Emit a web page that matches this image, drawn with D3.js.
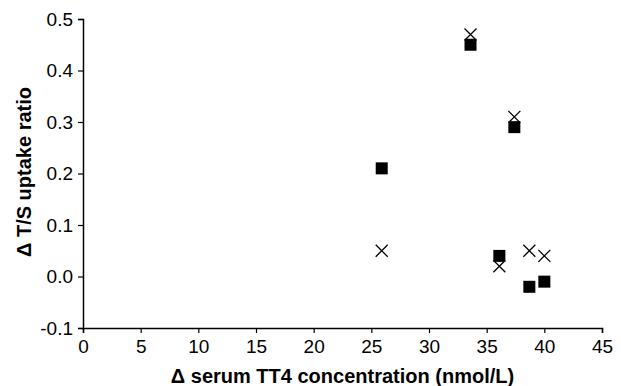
<!DOCTYPE html>
<html>
<head>
<meta charset="utf-8">
<script src="https://cdn.jsdelivr.net/npm/d3@7"></script>
<style>
  body { margin: 0; background: #fff; }
  svg { display: block; font-family: "Liberation Sans", Arial, sans-serif; }
</style>
</head>
<body>
<div id="chart"></div>
<script>
(function() {

    var width = 621;
    var height = 386;

    // data
    var squareX = [25.9, 33.6, 37.4, 36.1, 38.7, 40.0];
    var squareY = [0.21, 0.45, 0.29, 0.04, -0.02, -0.01];
    var crossX = [25.9, 33.6, 37.4, 36.1, 38.7, 40.0];
    var crossY = [0.05, 0.47, 0.31, 0.02, 0.05, 0.04];
    var xTicks = [0, 5, 10, 15, 20, 25, 30, 35, 40, 45];
    var yTicks = [-0.1, 0.0, 0.1, 0.2, 0.3, 0.4, 0.5];

    var margin = {left: 83, right: 19, top: 19, bottom: 58};

    var x = d3.scaleLinear().domain([0, 45]).range([margin.left, width - margin.right]);
    var y = d3.scaleLinear().domain([-0.1, 0.5]).range([height - margin.bottom, margin.top]);

    var svg = d3.select("#chart")
        .append("svg")
        .attr("width", width)
        .attr("height", height);

    var xAxis = svg.append("g")
        .attr("transform", "translate(0," + y(-0.1) + ")")
        .call(d3.axisBottom(x).tickValues(xTicks).tickSize(5).tickSizeOuter(5).tickPadding(7));

    var yAxis = svg.append("g")
        .attr("transform", "translate(" + x(0) + ",0)")
        .call(d3.axisLeft(y).tickValues(yTicks)
            .tickFormat(function (d) { return d.toFixed(1).replace("\u2212", "-"); })
            .tickSize(5).tickSizeOuter(5).tickPadding(5));

    [xAxis, yAxis].forEach(function (g) {
        g.attr("font-size", 19).attr("font-family", "'Liberation Sans', Arial, sans-serif");
        g.selectAll("text").attr("font-size", 19).attr("fill", "#000");
        g.selectAll("line").attr("stroke", "#000").attr("stroke-width", 1.2);
        g.select(".domain").attr("stroke", "#000").attr("stroke-width", 1.5);
    });

    // squares
    var sq = 12;
    svg.selectAll(".sq")
        .data(d3.range(squareX.length))
        .enter().append("rect")
        .attr("class", "sq")
        .attr("x", function (i) { return x(squareX[i]) - sq / 2; })
        .attr("y", function (i) { return y(squareY[i]) - sq / 2; })
        .attr("width", sq)
        .attr("height", sq)
        .attr("fill", "#000");

    // crosses
    var c = 6;
    svg.selectAll(".cross")
        .data(d3.range(crossX.length))
        .enter().append("path")
        .attr("class", "cross")
        .attr("d", function (i) {
            var cx = x(crossX[i]), cy = y(crossY[i]);
            return "M" + (cx - c) + "," + (cy - c) + "L" + (cx + c) + "," + (cy + c) +
                "M" + (cx - c) + "," + (cy + c) + "L" + (cx + c) + "," + (cy - c);
        })
        .attr("stroke", "#000")
        .attr("stroke-width", 1.3)
        .attr("fill", "none");

    // axis titles
    svg.append("text")
        .attr("x", (x(0) + x(45)) / 2)
        .attr("y", 383)
        .attr("text-anchor", "middle")
        .style("font-size", "20px")
        .style("font-weight", "bold")
        .text("\u0394 serum TT4 concentration (nmol/L)");

    svg.append("text")
        .attr("transform", "translate(31," + 172 + ") rotate(-90)")
        .attr("text-anchor", "middle")
        .style("font-size", "20px")
        .style("font-weight", "bold")
        .text("\u0394 T/S uptake ratio");

})();
</script>
</body>
</html>
